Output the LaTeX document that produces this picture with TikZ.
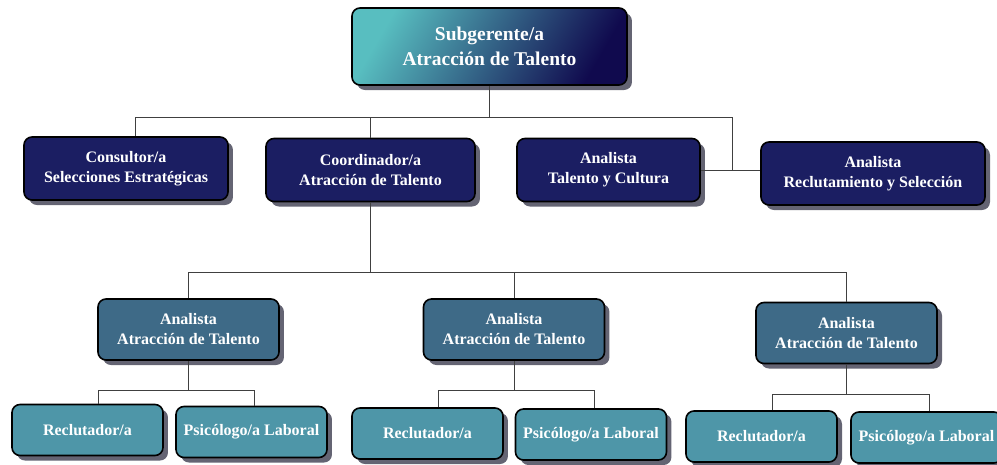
\documentclass[tikz,border=0pt]{standalone}
\usepackage{fontspec}
\setmainfont{Liberation Serif}
\usetikzlibrary{positioning}
\usetikzlibrary{shadows}

\definecolor{tealTop}{RGB}{88,190,192}
\definecolor{blueTop}{RGB}{36,70,122}
\definecolor{navyTop}{RGB}{16,10,78}
\definecolor{navyBox}{RGB}{27,30,98}
\definecolor{steelBox}{RGB}{62,106,135}
\definecolor{tealBox}{RGB}{78,150,168}
\definecolor{shadowGray}{RGB}{100,100,115}

\begin{document}
\begin{tikzpicture}[on grid,
    box/.style={draw=black, line width=1.6pt, rounded corners=8pt, text=white,
                align=center, inner sep=0pt,
                font=\bfseries\fontsize{16}{20}\selectfont,
                drop shadow={shadow xshift=5pt, shadow yshift=-5pt, fill=shadowGray, opacity=1}},
    boss/.style={box, minimum width=275pt, minimum height=77pt,
                 top color=tealTop, middle color=blueTop, bottom color=navyTop,
                 shading angle=60,
                 font=\bfseries\fontsize{19.5}{25}\selectfont},
    lead/.style={box, fill=navyBox, minimum height=63pt},
    analyst/.style={box, fill=steelBox, minimum width=181pt, minimum height=61pt},
    staff/.style={box, fill=tealBox, minimum width=151pt, minimum height=51pt},
    wire/.style={draw=black!75, line width=0.9pt}]
        % \draw[help lines] (0,0) grid (3,2);
      \useasboundingbox (-489.5pt,46.5pt) rectangle (507.5pt,-417.5pt);

      \node[boss]                                                   (sub)   {Subgerente/a\\Atracción de Talento};
      \node[lead, minimum width=204pt, below left=122pt and 363.5pt of sub]  (cons)  {Consultor/a\\Selecciones Estratégicas};
      \node[lead, minimum width=209pt, below left=123.5pt and 119pt of sub]  (coord) {Coordinador/a\\Atracción de Talento};
      \node[lead, minimum width=183pt, below right=123.5pt and 119pt of sub] (tyc)   {Analista\\Talento y Cultura};
      \node[lead, minimum width=224pt, below right=127pt and 383.5pt of sub] (rec)   {Analista\\Reclutamiento y Selección};

      \node[analyst, below right=159.5pt and 143.5pt of coord]      (an2)   {Analista\\Atracción de Talento};
      \node[analyst, left=325.5pt of an2]                           (an1)   {Analista\\Atracción de Talento};
      \node[analyst, below right=3.5pt and 332.5pt of an2]          (an3)   {Analista\\Atracción de Talento};

      \node[staff, below left=100.5pt and 101pt of an1]             (rc1)   {Reclutador/a};
      \node[staff, below right=2pt and 164pt of rc1]                (ps1)   {Psicólogo/a Laboral};
      \node[staff, below left=104pt and 86.5pt of an2]              (rc2)   {Reclutador/a};
      \node[staff, below right=1pt and 163.5pt of rc2]              (ps2)   {Psicólogo/a Laboral};
      \node[staff, below left=103.5pt and 85pt of an3]              (rc3)   {Reclutador/a};
      \node[staff, below right=1pt and 165pt of rc3]                (ps3)   {Psicólogo/a Laboral};

      \draw[wire] (tyc.east) -- coordinate[pos=0.54] (sideJoin) (tyc.east -| rec.west);
      \draw[wire] (sub.south) -- ++(0,-32pt) coordinate (busTop);
      \draw[wire] ([xshift=9pt]cons.north) |- (busTop) -| (sideJoin);
      \draw[wire] (coord.north) -- (coord.north |- busTop);

      \draw[wire] (coord.south) -- ++(0,-70.5pt) coordinate (busMid);
      \draw[wire] (an1.north) |- (busMid) -| (an3.north);
      \draw[wire] (an2.north) -- (an2.north |- busMid);

      \foreach \i in {1,2,3}{
        \draw[wire] (an\i.south) -- ++(0,-30pt) coordinate (fork\i);
        \draw[wire] ([xshift=11pt]rc\i.north) |- (fork\i) -| ([xshift=3pt]ps\i.north);
      }
    \end{tikzpicture}
\end{document}
